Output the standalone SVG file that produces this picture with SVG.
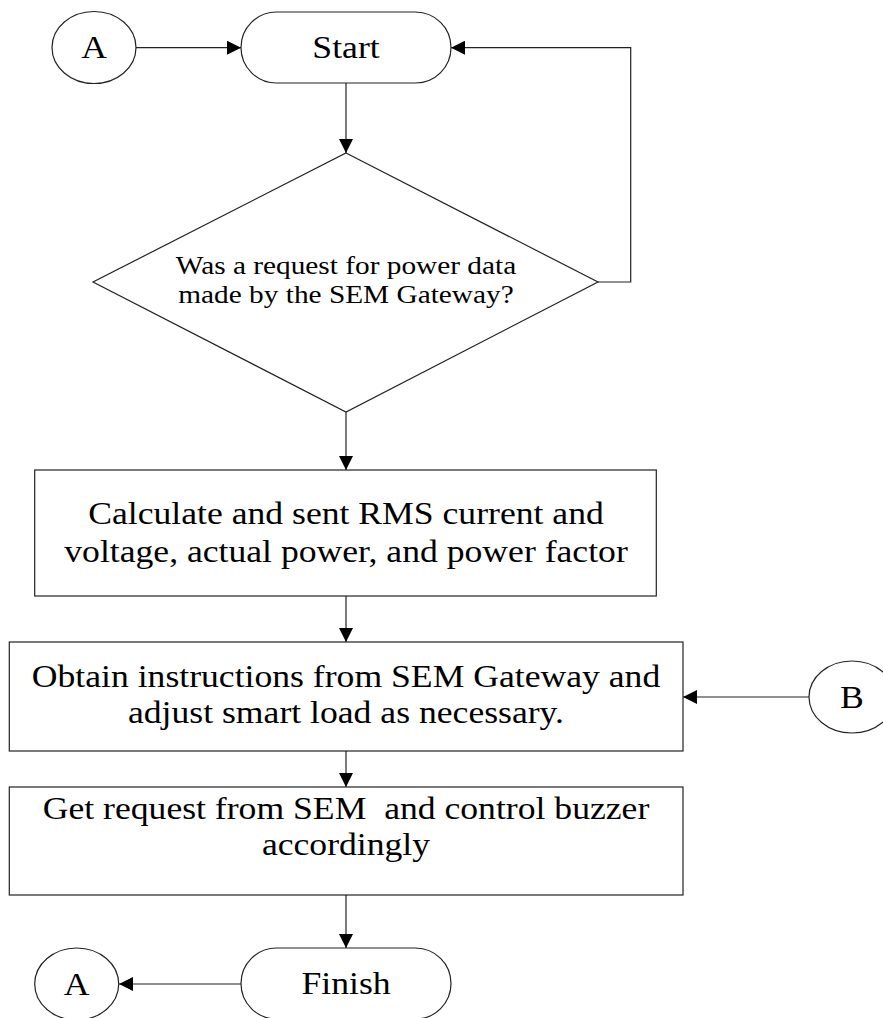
<svg xmlns="http://www.w3.org/2000/svg" width="883" height="1018" viewBox="0 0 883 1018">
<style>
.s{fill:#fff;stroke:#222;stroke-width:1.2}
.c{fill:none;stroke:#222;stroke-width:1.2}
.t{font-family:"Liberation Serif","Times New Roman",serif;font-size:31px;fill:#000;text-anchor:middle}
.d{font-family:"Liberation Serif","Times New Roman",serif;font-size:25.5px;fill:#000;text-anchor:middle}
</style>
<defs>
<marker id="ar" viewBox="0 0 14 14" refX="14" refY="7" markerWidth="14" markerHeight="14" markerUnits="userSpaceOnUse" orient="auto">
<path d="M0,0 L14,7 L0,14 Z" fill="#000"/>
</marker>
</defs>
<g id="connectors">
<line class="c" x1="136" y1="47.7" x2="241" y2="47.7" marker-end="url(#ar)"/>
<line class="c" x1="346" y1="83" x2="346" y2="153" marker-end="url(#ar)"/>
<polyline class="c" points="598,282 630.7,282 630.7,47.7 451,47.7" marker-end="url(#ar)"/>
<line class="c" x1="346" y1="412" x2="346" y2="470" marker-end="url(#ar)"/>
<line class="c" x1="346" y1="596" x2="346" y2="642" marker-end="url(#ar)"/>
<line class="c" x1="809" y1="697" x2="683" y2="697" marker-end="url(#ar)"/>
<line class="c" x1="346" y1="751" x2="346" y2="787" marker-end="url(#ar)"/>
<line class="c" x1="346" y1="895" x2="346" y2="948" marker-end="url(#ar)"/>
<line class="c" x1="241" y1="984" x2="119" y2="984" marker-end="url(#ar)"/>
</g>
<g id="connA1">
<ellipse class="s" cx="94" cy="47.5" rx="42" ry="36"/>
<text class="t" transform="translate(94 58) scale(1.15 1)">A</text>
</g>
<g id="start">
<rect class="s" x="241" y="12" width="210" height="71" rx="35.5" ry="35.5"/>
<text class="t" transform="translate(346 58) scale(1.15 1)">Start</text>
</g>
<g id="decision">
<polygon class="s" points="346,153 598,282 346,412 93,282"/>
<text class="d" transform="translate(346 274) scale(1.15 1)">Was a request for power data</text>
<text class="d" transform="translate(346 303) scale(1.15 1)">made by the SEM Gateway?</text>
</g>
<g id="calc">
<rect class="s" x="34.7" y="470" width="621.6" height="126"/>
<text class="t" transform="translate(346 524) scale(1.15 1)">Calculate and sent RMS current and</text>
<text class="t" transform="translate(346 562) scale(1.15 1)">voltage, actual power, and power factor</text>
</g>
<g id="obtain">
<rect class="s" x="9.3" y="642" width="673.7" height="109"/>
<text class="t" transform="translate(346 687) scale(1.15 1)">Obtain instructions from SEM Gateway and</text>
<text class="t" transform="translate(346 723) scale(1.15 1)">adjust smart load as necessary.</text>
</g>
<g id="connB">
<ellipse class="s" cx="852" cy="697" rx="43" ry="36"/>
<text class="t" transform="translate(852 708) scale(1.15 1)">B</text>
</g>
<g id="buzzer">
<rect class="s" x="9.3" y="787" width="673.7" height="108"/>
<text class="t" style="white-space:pre" transform="translate(346 819) scale(1.15 1)">Get request from SEM  and control buzzer</text>
<text class="t" transform="translate(346 855) scale(1.15 1)">accordingly</text>
</g>
<g id="finish">
<rect class="s" x="241" y="948" width="210" height="71" rx="35.5" ry="35.5"/>
<text class="t" transform="translate(346 994) scale(1.15 1)">Finish</text>
</g>
<g id="connA2">
<ellipse class="s" cx="76.7" cy="984" rx="42" ry="36"/>
<text class="t" transform="translate(76.7 995) scale(1.15 1)">A</text>
</g>
</svg>
